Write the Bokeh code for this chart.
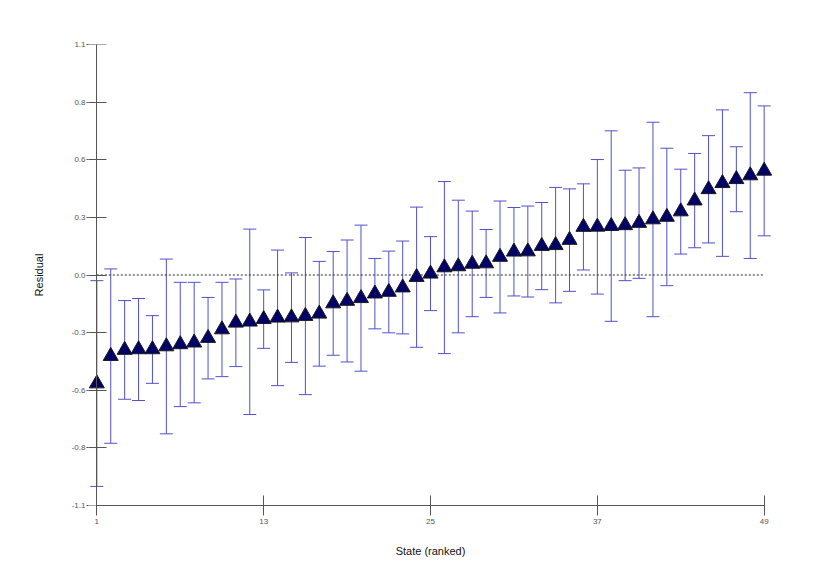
from bokeh.plotting import figure
from bokeh.models import ColumnDataSource, Whisker, TeeHead, FixedTicker, LinearAxis
from bokeh.embed import file_html
from bokeh.resources import INLINE

# ---- data ----
rank = list(range(1, 50))
residual = [-0.518, -0.387, -0.358, -0.355, -0.355, -0.341, -0.331, -0.323, -0.301, -0.260,
            -0.228, -0.223, -0.211, -0.204, -0.203, -0.196, -0.185, -0.136, -0.124, -0.111,
            -0.089, -0.081, -0.060, -0.010, 0.006, 0.036, 0.041, 0.053, 0.055, 0.086,
            0.111, 0.112, 0.138, 0.142, 0.167, 0.229, 0.230, 0.233, 0.237, 0.248,
            0.265, 0.277, 0.303, 0.355, 0.409, 0.438, 0.457, 0.475, 0.497]
lower = [-1.009, -0.803, -0.593, -0.599, -0.517, -0.758, -0.628, -0.610, -0.496, -0.485,
         -0.437, -0.666, -0.350, -0.528, -0.417, -0.571, -0.435, -0.383, -0.415, -0.459,
         -0.257, -0.276, -0.281, -0.345, -0.170, -0.375, -0.276, -0.199, -0.107, -0.181,
         -0.100, -0.105, -0.070, -0.133, -0.078, 0.024, -0.091, -0.221, -0.027, -0.016,
         -0.199, -0.051, 0.100, 0.130, 0.153, 0.089, 0.302, 0.079, 0.187]
upper = [-0.027, 0.029, -0.122, -0.112, -0.194, 0.076, -0.035, -0.035, -0.107, -0.035,
         -0.019, 0.219, -0.071, 0.119, 0.010, 0.179, 0.065, 0.112, 0.167, 0.238,
         0.079, 0.114, 0.162, 0.324, 0.183, 0.446, 0.357, 0.305, 0.217, 0.353,
         0.322, 0.329, 0.346, 0.418, 0.411, 0.435, 0.551, 0.688, 0.500, 0.511,
         0.729, 0.605, 0.505, 0.580, 0.665, 0.788, 0.612, 0.870, 0.807]

y_ticks = [-1.1, -0.825, -0.55, -0.275, 0.0, 0.275, 0.55, 0.825, 1.1]
y_tick_labels = ["-1.1", "-0.8", "-0.6", "-0.3", "0.0", "0.3", "0.6", "0.8", "1.1"]
x_ticks = [1, 13, 25, 37, 49]

src = ColumnDataSource(data=dict(rank=rank, residual=residual, lower=lower, upper=upper))

p = figure(width=820, height=571, x_range=(0.4, 49.6), y_range=(-1.1, 1.1),
           output_backend="svg", toolbar_location=None,
           min_border_left=88, min_border_right=48, min_border_top=44, min_border_bottom=66)
p.outline_line_color = None
p.xgrid.visible = False
p.ygrid.visible = False

# zero reference line across the ranked states
p.line(x=[rank[0], rank[-1]], y=[0, 0], line_color="#222222", line_dash="2 2", line_width=1)

err_col = "#5050cc"
whisk = Whisker(base="rank", lower="lower", upper="upper", source=src,
                line_color=err_col, line_width=1,
                upper_head=TeeHead(size=13, line_color=err_col, line_width=1),
                lower_head=TeeHead(size=13, line_color=err_col, line_width=1))
p.add_layout(whisk)

p.scatter("rank", "residual", source=src, marker="triangle", size=15,
          fill_color="#000066", line_color="#1a1a1a", line_width=1)

axis_col = "#555555"
for ax in (p.xaxis[0], p.yaxis[0]):
    ax.axis_line_color = axis_col
    ax.major_tick_line_color = axis_col
    ax.minor_tick_line_color = None
    ax.major_label_text_font = "Liberation Sans"
    ax.major_label_text_font_size = "8px"
    ax.major_label_text_color = "#555555"
    ax.axis_label_text_font = "Liberation Sans"
    ax.axis_label_text_font_size = "11px"
    ax.axis_label_text_font_style = "normal"
    ax.axis_label_text_color = "#111111"

# left axis: tick labels and title (sits at the frame edge)
p.yaxis.ticker = FixedTicker(ticks=y_ticks)
p.yaxis.major_label_overrides = {t: l for t, l in zip(y_ticks, y_tick_labels)}
p.yaxis.axis_line_color = None
p.yaxis.major_tick_in = 0
p.yaxis.major_tick_out = 2
p.yaxis.major_label_standoff = 1
p.yaxis.axis_label = "Residual"
p.yaxis.axis_label_standoff = 24

# axis line and ticks drawn at state 1
yline = LinearAxis(ticker=FixedTicker(ticks=y_ticks), fixed_location=rank[0],
                   axis_line_color=axis_col, major_tick_line_color=axis_col,
                   minor_tick_line_color=None, major_tick_in=10, major_tick_out=10,
                   major_label_text_alpha=0, major_label_text_font_size="1px")
p.add_layout(yline, "left")

p.xaxis.ticker = FixedTicker(ticks=x_ticks)
p.xaxis.bounds = (rank[0], rank[-1])
p.xaxis.major_tick_in = 10
p.xaxis.major_tick_out = 10
p.xaxis.major_label_standoff = 3
p.xaxis.axis_label = "State (ranked)"
p.xaxis.axis_label_standoff = 18

open("out.html", "w").write(file_html(p, INLINE))
